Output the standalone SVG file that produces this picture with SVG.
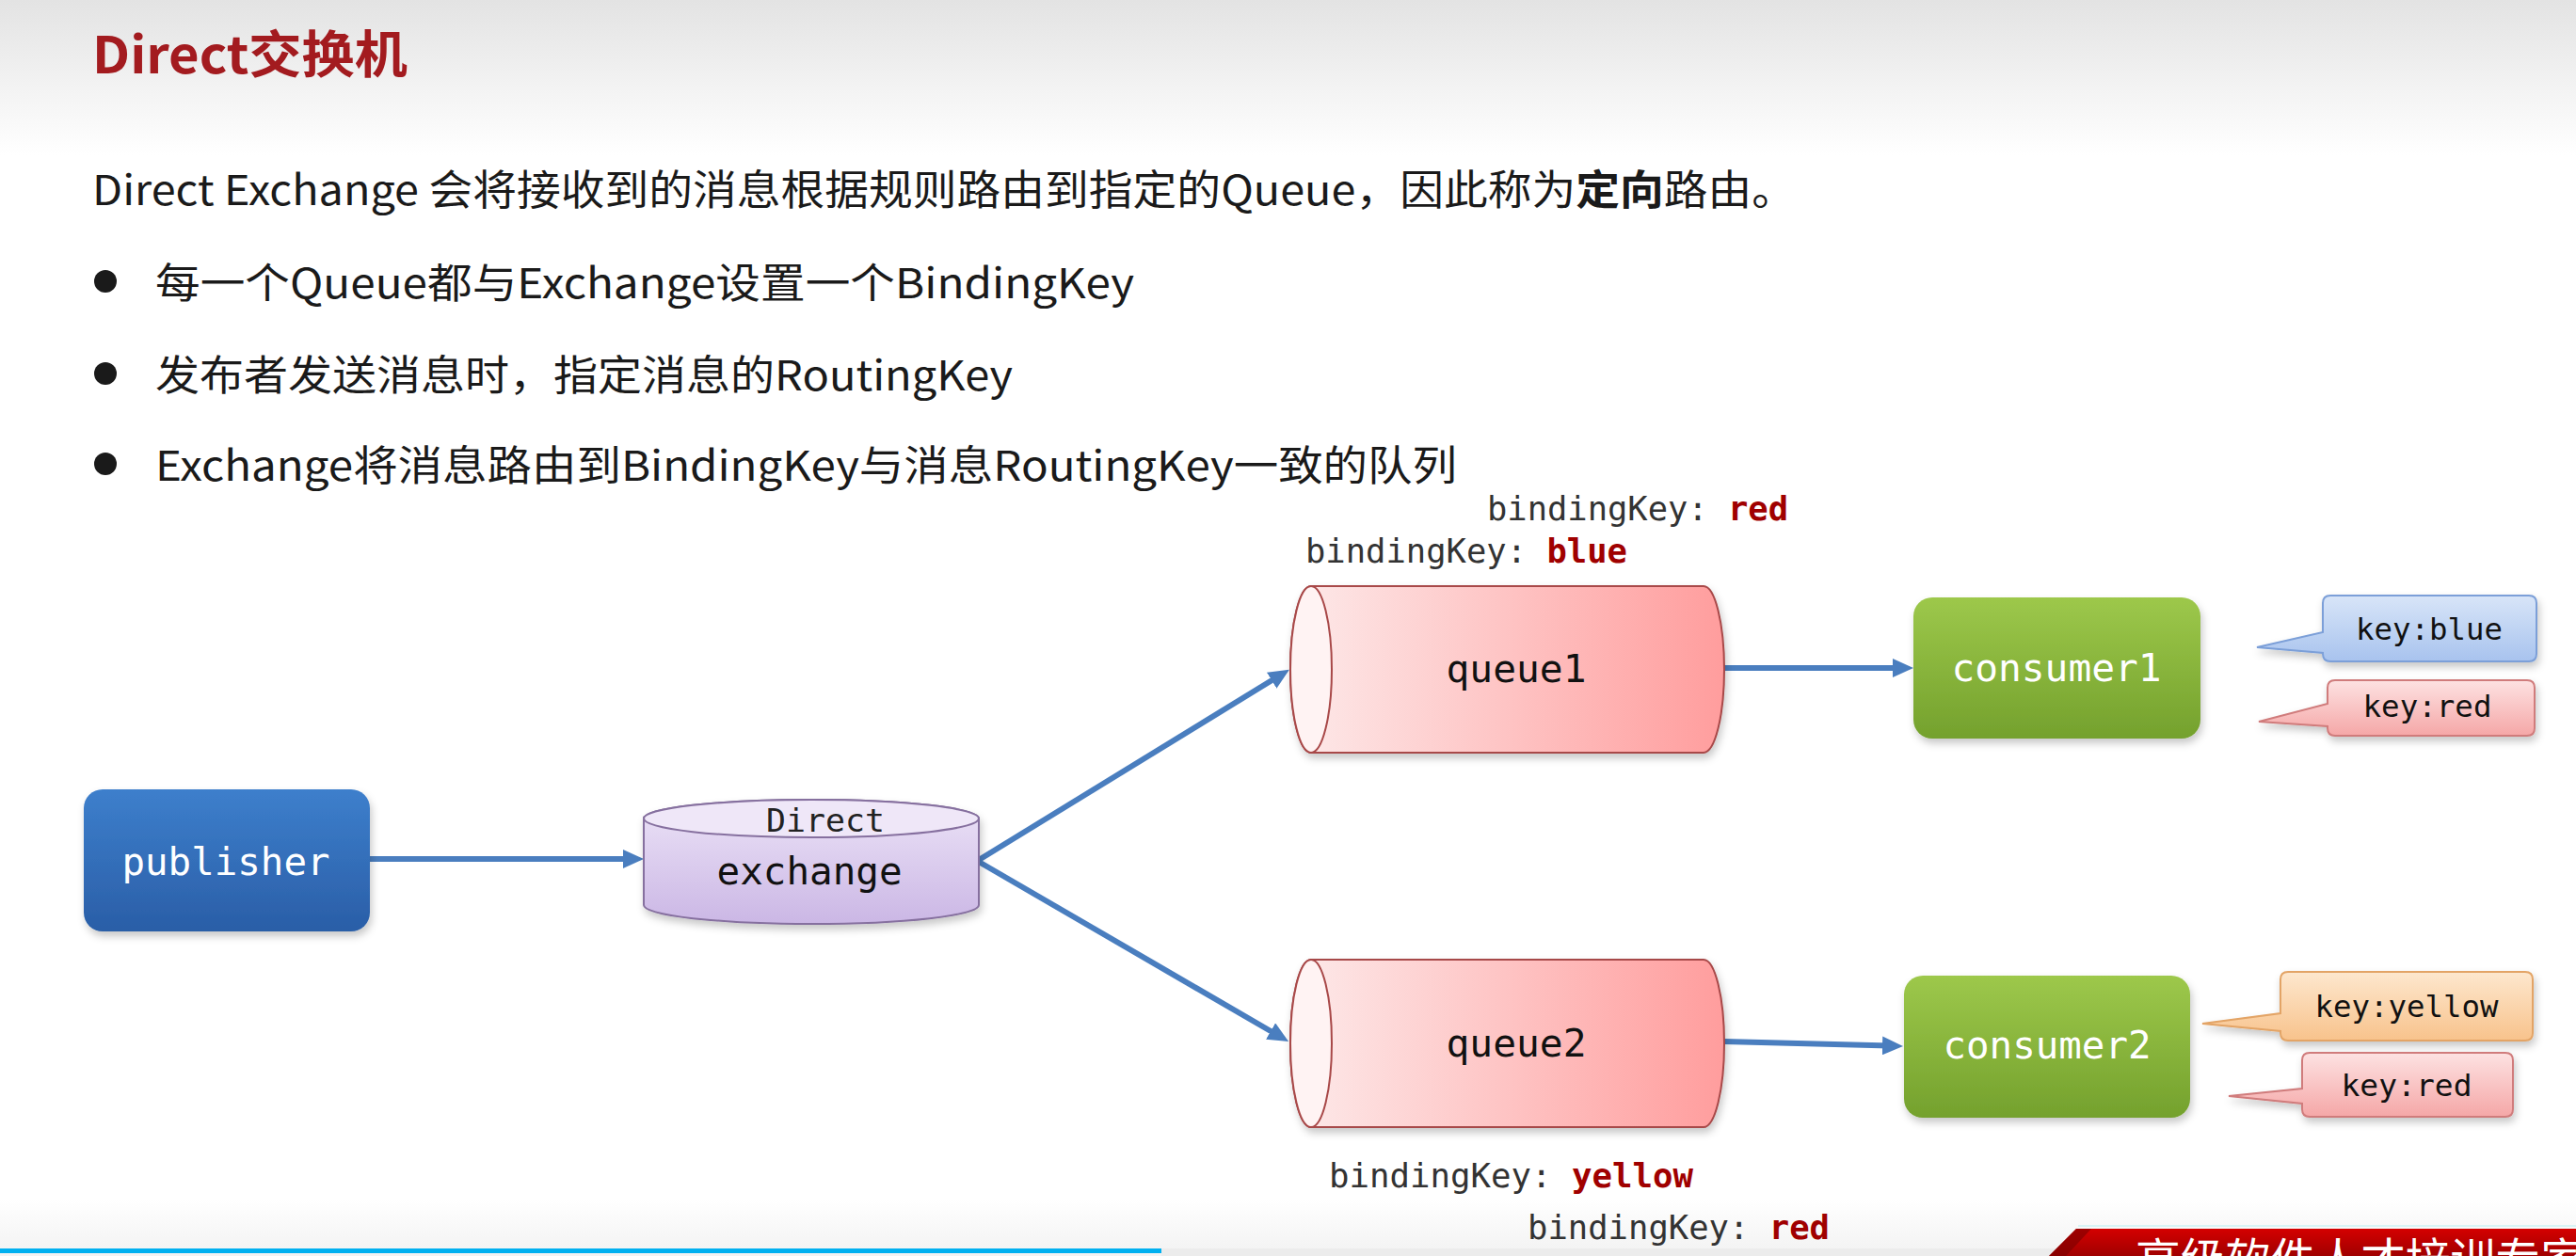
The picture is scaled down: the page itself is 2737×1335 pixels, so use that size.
<svg xmlns="http://www.w3.org/2000/svg" width="2737" height="1335" viewBox="0 0 2737 1335">
<defs>
<style>
.cjk{font-family:"Noto Sans CJK SC","Noto Sans",sans-serif;fill:#1a1a1a}
.lbl{font-family:"DejaVu Sans Mono","Liberation Mono",monospace;fill:#333333;font-size:35px}
.val{fill:#a00000;font-weight:bold}
.conn{stroke:#4a7ebf;stroke-width:6;fill:none;marker-end:url(#arrow)}
.ntext{font-family:"DejaVu Sans Mono","Liberation Mono",monospace;text-anchor:middle}
</style>
<linearGradient id="hdr" x1="0" y1="0" x2="0" y2="1"><stop offset="0" stop-color="#e3e3e3"/><stop offset="1" stop-color="#ffffff"/></linearGradient>
<linearGradient id="ftr" x1="0" y1="0" x2="0" y2="1"><stop offset="0" stop-color="#ffffff"/><stop offset="1" stop-color="#f2f2f2"/></linearGradient>
<linearGradient id="gPub" x1="0" y1="0" x2="0" y2="1"><stop offset="0" stop-color="#3d7fcc"/><stop offset="1" stop-color="#2a5ea7"/></linearGradient>
<linearGradient id="gEx" x1="0" y1="0" x2="0" y2="1"><stop offset="0" stop-color="#ece3f7"/><stop offset="1" stop-color="#cbb7e5"/></linearGradient>
<linearGradient id="gQ" x1="0" y1="0" x2="1" y2="0"><stop offset="0" stop-color="#fdeaea"/><stop offset="1" stop-color="#ff9d9d"/></linearGradient>
<linearGradient id="gC" x1="0" y1="0" x2="0" y2="1"><stop offset="0" stop-color="#9dc84b"/><stop offset="1" stop-color="#74a12d"/></linearGradient>
<linearGradient id="gBlue" x1="0" y1="0" x2="0" y2="1"><stop offset="0" stop-color="#d8e5f8"/><stop offset="1" stop-color="#a8c3ee"/></linearGradient>
<linearGradient id="gRed" x1="0" y1="0" x2="0" y2="1"><stop offset="0" stop-color="#fde2e2"/><stop offset="1" stop-color="#f5a7a7"/></linearGradient>
<linearGradient id="gYel" x1="0" y1="0" x2="0" y2="1"><stop offset="0" stop-color="#fde7ce"/><stop offset="1" stop-color="#f8c38c"/></linearGradient>
<linearGradient id="gBan" x1="0" y1="0" x2="0" y2="1"><stop offset="0" stop-color="#d40000"/><stop offset="1" stop-color="#a00000"/></linearGradient>
<filter id="sh" x="-10%" y="-10%" width="130%" height="140%"><feDropShadow dx="2" dy="5" stdDeviation="4" flood-color="#000" flood-opacity="0.22"/></filter>
<marker id="arrow" markerUnits="userSpaceOnUse" markerWidth="22" markerHeight="20" refX="8" refY="10" orient="auto"><path d="M0,0 L22,10 L0,20 Z" fill="#4a7ebf"/></marker>
</defs>

<rect x="0" y="0" width="2737" height="1335" fill="#ffffff"/>
<rect x="0" y="0" width="2737" height="165" fill="url(#hdr)"/>
<rect x="0" y="1275" width="2737" height="60" fill="url(#ftr)"/>

<g id="header-text">
<text class="cjk" x="98" y="78" font-size="54" font-weight="bold" style="fill:#a31b1f" textLength="335" lengthAdjust="spacingAndGlyphs">Direct交换机</text>
<text class="cjk" x="98" y="218" font-size="44" textLength="1810" lengthAdjust="spacingAndGlyphs">Direct Exchange 会将接收到的消息根据规则路由到指定的Queue，因此称为<tspan font-weight="bold">定向</tspan>路由。</text>
<circle cx="112" cy="299" r="12" fill="#1a1a1a"/>
<text class="cjk" x="165" y="317" font-size="44" textLength="1040" lengthAdjust="spacingAndGlyphs">每一个Queue都与Exchange设置一个BindingKey</text>
<circle cx="112" cy="397" r="12" fill="#1a1a1a"/>
<text class="cjk" x="165" y="415" font-size="44" textLength="911" lengthAdjust="spacingAndGlyphs">发布者发送消息时，指定消息的RoutingKey</text>
<circle cx="112" cy="493" r="12" fill="#1a1a1a"/>
<text class="cjk" x="165" y="511" font-size="44" textLength="1383" lengthAdjust="spacingAndGlyphs">Exchange将消息路由到BindingKey与消息RoutingKey一致的队列</text>
</g>

<g id="connectors">
<line class="conn" x1="393" y1="913" x2="670" y2="913"/>
<line class="conn" x1="1040" y1="914" x2="1358" y2="719"/>
<line class="conn" x1="1040" y1="916" x2="1357" y2="1100"/>
<line class="conn" x1="1832" y1="710" x2="2019" y2="710"/>
<line class="conn" x1="1832" y1="1107" x2="2008" y2="1111.6"/>
</g>

<g id="publisher">
<rect x="89" y="839" width="304" height="151" rx="20" fill="url(#gPub)" filter="url(#sh)"/>
<text class="ntext" x="240" y="930" font-size="40" fill="#ffffff" textLength="221" lengthAdjust="spacingAndGlyphs">publisher</text>
</g>

<g id="exchange">
<path d="M684,870 A178,20 0 0 1 1040,870 L1040,962 A178,20 0 0 1 684,962 Z" fill="url(#gEx)" stroke="#86709f" stroke-width="2" filter="url(#sh)"/>
<ellipse cx="862" cy="870" rx="178" ry="20" fill="#efe7f8" stroke="#86709f" stroke-width="2"/>
<text class="ntext" x="877" y="884" font-size="34" fill="#222" textLength="126" lengthAdjust="spacingAndGlyphs">Direct</text>
<text class="ntext" x="860" y="940" font-size="40" fill="#111" textLength="197" lengthAdjust="spacingAndGlyphs">exchange</text>
</g>

<g id="queue1">
<path d="M1393,623 L1810,623 A22,88.5 0 0 1 1810,800 L1393,800 A22,88.5 0 0 1 1393,623 Z" fill="url(#gQ)" stroke="#a84848" stroke-width="2" filter="url(#sh)"/>
<ellipse cx="1393" cy="711.5" rx="22" ry="88.5" fill="#fff3f3" stroke="#a84848" stroke-width="2"/>
<text class="ntext" x="1611" y="725" font-size="40" fill="#111" textLength="149" lengthAdjust="spacingAndGlyphs">queue1</text>
</g>

<g id="queue2">
<path d="M1393,1020 L1810,1020 A22,89 0 0 1 1810,1198 L1393,1198 A22,89 0 0 1 1393,1020 Z" fill="url(#gQ)" stroke="#a84848" stroke-width="2" filter="url(#sh)"/>
<ellipse cx="1393" cy="1109" rx="22" ry="89" fill="#fff3f3" stroke="#a84848" stroke-width="2"/>
<text class="ntext" x="1611" y="1123" font-size="40" fill="#111" textLength="149" lengthAdjust="spacingAndGlyphs">queue2</text>
</g>

<g id="consumer1">
<rect x="2033" y="635" width="305" height="150" rx="20" fill="url(#gC)" filter="url(#sh)"/>
<text class="ntext" x="2185" y="724" font-size="40" fill="#ffffff" textLength="223" lengthAdjust="spacingAndGlyphs">consumer1</text>
</g>

<g id="consumer2">
<rect x="2023" y="1037" width="304" height="151" rx="20" fill="url(#gC)" filter="url(#sh)"/>
<text class="ntext" x="2175" y="1125" font-size="40" fill="#ffffff" textLength="221" lengthAdjust="spacingAndGlyphs">consumer2</text>
</g>

<g id="key-blue-1">
<path d="M2476,633 H2687 Q2695,633 2695,641 V695 Q2695,703 2687,703 H2476 Q2468,703 2468,695 V694 L2398,688 L2468,672 V641 Q2468,633 2476,633 Z" fill="url(#gBlue)" stroke="#7b9fd8" stroke-width="2" filter="url(#sh)"/>
<text class="ntext" x="2581" y="680" font-size="32" fill="#111" textLength="156" lengthAdjust="spacingAndGlyphs">key:blue</text>
</g>

<g id="key-red-1">
<path d="M2481,723 H2685 Q2693,723 2693,731 V774 Q2693,782 2685,782 H2481 Q2473,782 2473,774 V772 L2400,767 L2473,748 V731 Q2473,723 2481,723 Z" fill="url(#gRed)" stroke="#d07c7c" stroke-width="2" filter="url(#sh)"/>
<text class="ntext" x="2579" y="762" font-size="32" fill="#111" textLength="137" lengthAdjust="spacingAndGlyphs">key:red</text>
</g>

<g id="key-yellow-2">
<path d="M2431,1033 H2683 Q2691,1033 2691,1041 V1098 Q2691,1106 2683,1106 H2431 Q2423,1106 2423,1098 V1096 L2340,1088 L2423,1077 V1041 Q2423,1033 2431,1033 Z" fill="url(#gYel)" stroke="#e3a466" stroke-width="2" filter="url(#sh)"/>
<text class="ntext" x="2557" y="1081" font-size="32" fill="#111" textLength="195" lengthAdjust="spacingAndGlyphs">key:yellow</text>
</g>

<g id="key-red-2">
<path d="M2454,1119 H2662 Q2670,1119 2670,1127 V1179 Q2670,1187 2662,1187 H2454 Q2446,1187 2446,1179 V1173 L2368,1165 L2446,1157 V1127 Q2446,1119 2454,1119 Z" fill="url(#gRed)" stroke="#d07c7c" stroke-width="2" filter="url(#sh)"/>
<text class="ntext" x="2557" y="1165" font-size="32" fill="#111" textLength="139" lengthAdjust="spacingAndGlyphs">key:red</text>
</g>

<g id="binding-labels">
<text class="lbl" x="1580" y="553" textLength="320" lengthAdjust="spacingAndGlyphs">bindingKey: <tspan class="val">red</tspan></text>
<text class="lbl" x="1387" y="598" textLength="342" lengthAdjust="spacingAndGlyphs">bindingKey: <tspan class="val">blue</tspan></text>
<text class="lbl" x="1412" y="1262" font-size="34" textLength="387" lengthAdjust="spacingAndGlyphs">bindingKey: <tspan class="val">yellow</tspan></text>
<text class="lbl" x="1623" y="1317" textLength="321" lengthAdjust="spacingAndGlyphs">bindingKey: <tspan class="val">red</tspan></text>
</g>

<g id="footer">
<rect x="0" y="1327" width="1234" height="5" fill="#00b0f0"/>
<rect x="1234" y="1327" width="1503" height="8" fill="#ececec"/>
<line x1="2208" y1="1303" x2="2737" y2="1303" stroke="#d8f4f6" stroke-width="2"/>
<polygon points="2206,1306 2737,1306 2737,1335 2177,1335" fill="url(#gBan)"/>
<polygon points="2206,1306 2222,1306 2195,1335 2177,1335" fill="#7a0000" opacity="0.6"/>
<text x="2269" y="1356" font-family="Noto Sans CJK SC, sans-serif" font-size="48" fill="#ffffff" textLength="478" lengthAdjust="spacingAndGlyphs">高级软件人才培训专家</text>
</g>
</svg>
